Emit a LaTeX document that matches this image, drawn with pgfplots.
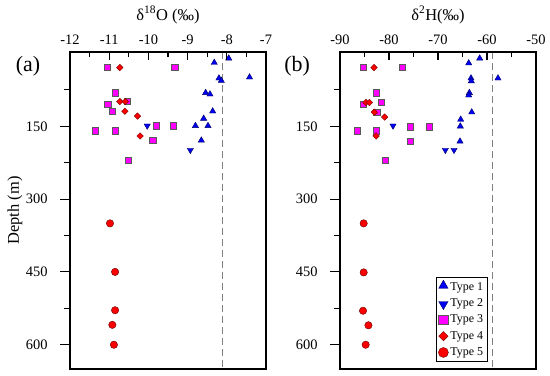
\documentclass[border=0pt]{standalone}
\usepackage{fontspec}
\setmainfont{Liberation Serif}
\usepackage{pgfplots}
\pgfplotsset{compat=1.18}
\definecolor{tblue}{RGB}{0,0,240}
\definecolor{tmag}{RGB}{255,0,255}
\definecolor{tred}{RGB}{250,0,0}
\pgfplotsset{
  base/.style={scale only axis, width=196bp, height=317bp, anchor=south west,
    axis line style={line width=1.1bp}, tick style={line width=1.1bp, black}},
  dataax/.style={base, ymin=-3, ymax=650, y dir=reverse, xtick=\empty,
    ytick={150,300,450,600}, yticklabels={150,300,450,600},
    minor ytick={75,225,375,525}, tick align=outside, ytick pos=left,
    major tick length=10bp, minor tick length=6bp,
    yticklabel style={font=\fontsize{14.5}{15}\selectfont, xshift=-9bp}},
  topax/.style={base, ymin=0, ymax=1, ytick=\empty, tick align=inside, clip=false,
    xtick pos=right, xticklabel pos=right, major tick length=8bp, minor tick length=5bp,
    xticklabel style={font=\fontsize{14.5}{15}\selectfont, yshift=4bp}},
  t1/.style={only marks, mark=triangle*, mark size=3.6bp, mark options={fill=tblue, draw=black!60!blue, line width=0.4bp},
    legend image code/.code={\draw[##1, mark size=5.4bp] plot coordinates {(0.12cm,0.05cm)};}},
  t2/.style={only marks, mark=triangle*, mark size=3.6bp, mark options={rotate=180, fill=tblue, draw=black!60!blue, line width=0.4bp},
    legend image code/.code={\draw[##1, mark size=5.4bp] plot coordinates {(0.12cm,-0.03cm)};}},
  t3/.style={only marks, mark=square*, mark size=3.1bp, mark options={fill=tmag, draw=black!65, line width=0.4bp},
    legend image code/.code={\draw[##1, mark size=4.8bp] plot coordinates {(0.12cm,0cm)};}},
  t4/.style={only marks, mark=square*, mark size=2.3bp, mark options={rotate=45, fill=tred, draw=black!50!red, line width=0.4bp},
    legend image code/.code={\draw[##1, mark size=3.3bp] plot coordinates {(0.12cm,0cm)};}},
  t5/.style={only marks, mark=*, mark size=3.7bp, mark options={fill=tred, draw=black!60!red, line width=0.4bp},
    legend image code/.code={\draw[##1, mark size=5bp] plot coordinates {(0.12cm,0cm)};}},
}
\begin{document}
\begin{tikzpicture}
\useasboundingbox (0,0) rectangle (550bp,376bp);
% ---------- panel (a) ----------
\begin{axis}[dataax, at={(70bp,7bp)}, xmin=-12, xmax=-7,
  ylabel={Depth (m)}, ylabel style={font=\fontsize{16.5}{18}\selectfont, at={(axis description cs:-0.281,0.5)}, anchor=center}]
\addplot[gray, dash pattern=on 7bp off 4bp, line width=0.9bp, forget plot] coordinates {(-8.1,-3) (-8.1,650)};
\addplot[t1] coordinates {(-8.32,19) (-7.95,10) (-8.20,51) (-8.14,56) (-7.42,49) (-8.54,81) (-8.43,84) (-8.36,119) (-8.59,134) (-8.80,149) (-8.48,149) (-8.65,179)};
\addplot[t2] coordinates {(-10.03,149) (-8.93,199)};
\addplot[t3] coordinates {(-11.06,29) (-9.33,29) (-10.84,81) (-11.04,104) (-10.54,99) (-10.92,119) (-11.36,159) (-10.85,159) (-9.80,149) (-9.37,149) (-9.89,179) (-10.51,220)};
\addplot[t4] coordinates {(-10.73,29) (-10.73,99) (-10.59,99) (-10.60,119) (-10.28,129) (-10.21,170)};
\addplot[t5] coordinates {(-10.98,350) (-10.85,450) (-10.85,529) (-10.92,559) (-10.88,600)};
\end{axis}
\begin{axis}[topax, at={(70bp,7bp)}, xmin=-12, xmax=-7,
  xtick={-12,-11,-10,-9,-8,-7}, xticklabels={-12,-11,-10,-9,-8,-7},
  minor xtick={-11.5,-10.5,-9.5,-8.5,-7.5}]
\node[font=\fontsize{16.5}{18}\selectfont] at (axis description cs:0.5,1.117) {δ\textsuperscript{18}O (‰)};
\node[font=\fontsize{22}{24}\selectfont] at (axis description cs:-0.214,0.956) {(a)};
\end{axis}
% ---------- panel (b) ----------
\begin{axis}[dataax, at={(340bp,7bp)}, xmin=-90, xmax=-50,
  legend style={at={(axis description cs:0.755,0.022)}, anchor=south east, draw=black, line width=0.8bp,
    font=\fontsize{12}{12.5}\selectfont, row sep=3bp, inner sep=2.5bp},
  legend cell align=left]
\addplot[gray, dash pattern=on 7bp off 4bp, line width=0.9bp, forget plot] coordinates {(-58.8,-3) (-58.8,650)};
\addplot[t1] coordinates {(-63.73,20) (-61.49,10) (-63.27,51) (-63.2,57) (-57.76,51) (-63.6,81) (-63.73,86) (-63.12,121) (-65.37,136) (-65.45,150) (-65.51,181)};
\addlegendentry{Type 1}
\addplot[t2] coordinates {(-79.18,149) (-68.5,199) (-66.73,199)};
\addlegendentry{Type 2}
\addplot[t3] coordinates {(-85.24,29) (-77.35,29) (-82.65,81) (-85.24,105) (-81.63,101) (-82.5,121) (-86.53,159) (-82.65,159) (-75.71,151) (-71.84,151) (-75.71,181) (-80.75,220)};
\addlegendentry{Type 3}
\addplot[t4] coordinates {(-83.06,29) (-84.7,101) (-84.0,101) (-83.0,121) (-80.88,131) (-82.65,170)};
\addlegendentry{Type 4}
\addplot[t5] coordinates {(-85.17,350) (-85.17,451) (-85.3,530) (-84.2,560) (-84.76,600)};
\addlegendentry{Type 5}
\end{axis}
\begin{axis}[topax, at={(340bp,7bp)}, xmin=-90, xmax=-50,
  xtick={-90,-80,-70,-60,-50}, xticklabels={-90,-80,-70,-60,-50},
  minor xtick={-85,-75,-65,-55}]
\node[font=\fontsize{16.5}{18}\selectfont] at (axis description cs:0.5,1.117) {δ\textsuperscript{2}H(‰)};
\node[font=\fontsize{22}{24}\selectfont] at (axis description cs:-0.219,0.956) {(b)};
\end{axis}
\end{tikzpicture}
\end{document}
